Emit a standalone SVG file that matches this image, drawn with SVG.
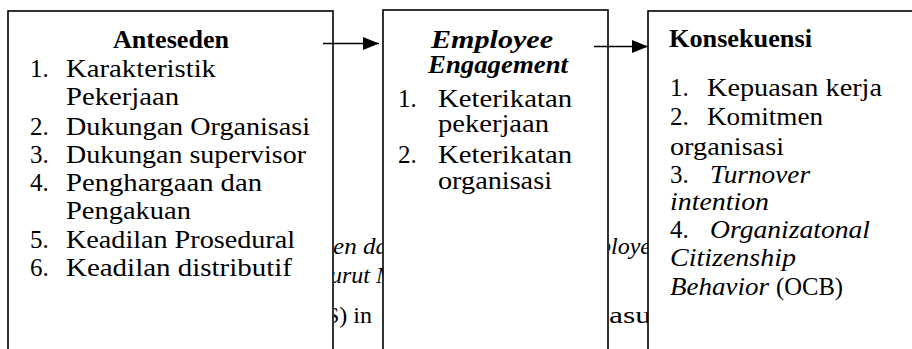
<svg xmlns="http://www.w3.org/2000/svg" width="912" height="349" viewBox="0 0 912 349">
  <defs>
    <style>
      .box { fill: #fff; stroke: #000; stroke-width: 1.6; }
      .t { font-family: "Liberation Serif", "Times New Roman", serif; font-size: 25px; fill: #000; }
      .b { font-weight: bold; }
      .i { font-style: italic; }
      .bg { font-family: "Liberation Serif", "Times New Roman", serif; font-size: 24px; fill: #000; }
      .conn { stroke: #000; stroke-width: 1.6; fill: none; }
    </style>
    <marker id="arrow" markerUnits="userSpaceOnUse" markerWidth="16" markerHeight="13" refX="16" refY="6.5" orient="auto">
      <path d="M0,0 L16,6.5 L0,13 Z" fill="#000"/>
    </marker>
    <clipPath id="gapA"><rect x="334" y="230" width="49" height="119"/></clipPath>
    <clipPath id="gapB"><rect x="609" y="230" width="39" height="119"/></clipPath>
  </defs>

  <!-- body text of the page showing between the boxes -->
  <g id="page-text">
    <g clip-path="url(#gapA)">
      <text class="bg i" x="333" y="254" textLength="55" lengthAdjust="spacingAndGlyphs">en da</text>
      <text class="bg i" x="330" y="283">urut M</text>
      <text class="bg" x="326" y="323">S) in</text>
    </g>
    <g clip-path="url(#gapB)">
      <text class="bg i" x="599" y="254">ployee</text>
      <text class="bg" x="609" y="323" textLength="42" lengthAdjust="spacingAndGlyphs">asu</text>
    </g>
    <line x1="320" y1="347.5" x2="333" y2="347.5" stroke="#9a9a9a" stroke-width="1"/>
  </g>

  <g id="anteseden">
    <rect class="box" x="8" y="11" width="325" height="350"/>
    <text class="t b" x="113" y="48" textLength="116" lengthAdjust="spacingAndGlyphs">Anteseden</text>
    <text class="t" x="30" y="77">1.</text><text class="t" x="66" y="77" textLength="150" lengthAdjust="spacingAndGlyphs">Karakteristik</text>
    <text class="t" x="66" y="105" textLength="113" lengthAdjust="spacingAndGlyphs">Pekerjaan</text>
    <text class="t" x="30" y="135">2.</text><text class="t" x="66" y="135" textLength="244" lengthAdjust="spacingAndGlyphs">Dukungan Organisasi</text>
    <text class="t" x="30" y="163">3.</text><text class="t" x="66" y="163" textLength="240" lengthAdjust="spacingAndGlyphs">Dukungan supervisor</text>
    <text class="t" x="30" y="191">4.</text><text class="t" x="66" y="191" textLength="196" lengthAdjust="spacingAndGlyphs">Penghargaan dan</text>
    <text class="t" x="66" y="219" textLength="125" lengthAdjust="spacingAndGlyphs">Pengakuan</text>
    <text class="t" x="30" y="248">5.</text><text class="t" x="66" y="248" textLength="229" lengthAdjust="spacingAndGlyphs">Keadilan Prosedural</text>
    <text class="t" x="30" y="276">6.</text><text class="t" x="66" y="276" textLength="226" lengthAdjust="spacingAndGlyphs">Keadilan distributif</text>
  </g>

  <g id="engagement">
    <rect class="box" x="383" y="10" width="225" height="350"/>
    <text class="t b i" x="431" y="48" textLength="122" lengthAdjust="spacingAndGlyphs">Employee</text>
    <text class="t b i" x="428" y="73" textLength="140" lengthAdjust="spacingAndGlyphs">Engagement</text>
    <text class="t" x="398" y="107">1.</text><text class="t" x="438" y="107" textLength="134" lengthAdjust="spacingAndGlyphs">Keterikatan</text>
    <text class="t" x="438" y="132" textLength="111" lengthAdjust="spacingAndGlyphs">pekerjaan</text>
    <text class="t" x="398" y="163">2.</text><text class="t" x="438" y="163" textLength="134" lengthAdjust="spacingAndGlyphs">Keterikatan</text>
    <text class="t" x="438" y="189" textLength="114" lengthAdjust="spacingAndGlyphs">organisasi</text>
  </g>

  <g id="konsekuensi">
    <rect class="box" x="648" y="11" width="280" height="350"/>
    <text class="t b" x="669" y="47" textLength="143" lengthAdjust="spacingAndGlyphs">Konsekuensi</text>
    <text class="t" x="670" y="96">1.</text><text class="t" x="707" y="96" textLength="175" lengthAdjust="spacingAndGlyphs">Kepuasan kerja</text>
    <text class="t" x="670" y="125">2.</text><text class="t" x="707" y="125" textLength="116" lengthAdjust="spacingAndGlyphs">Komitmen</text>
    <text class="t" x="670" y="155" textLength="114" lengthAdjust="spacingAndGlyphs">organisasi</text>
    <text class="t" x="670" y="183">3.</text><text class="t i" x="710" y="183" textLength="100" lengthAdjust="spacingAndGlyphs">Turnover</text>
    <text class="t i" x="670" y="210" textLength="99" lengthAdjust="spacingAndGlyphs">intention</text>
    <text class="t" x="670" y="238">4.</text><text class="t i" x="710" y="238" textLength="160" lengthAdjust="spacingAndGlyphs">Organizatonal</text>
    <text class="t i" x="670" y="266" textLength="126" lengthAdjust="spacingAndGlyphs">Citizenship</text>
    <text class="t i" x="670" y="295" textLength="99" lengthAdjust="spacingAndGlyphs">Behavior</text>
    <text class="t" x="776" y="295" textLength="67" lengthAdjust="spacingAndGlyphs">(OCB)</text>
  </g>

  <g id="connectors">
    <line class="conn" x1="323" y1="43.5" x2="379" y2="43.5" marker-end="url(#arrow)"/>
    <line class="conn" x1="594" y1="46.5" x2="648" y2="46.5" marker-end="url(#arrow)"/>
  </g>
</svg>
